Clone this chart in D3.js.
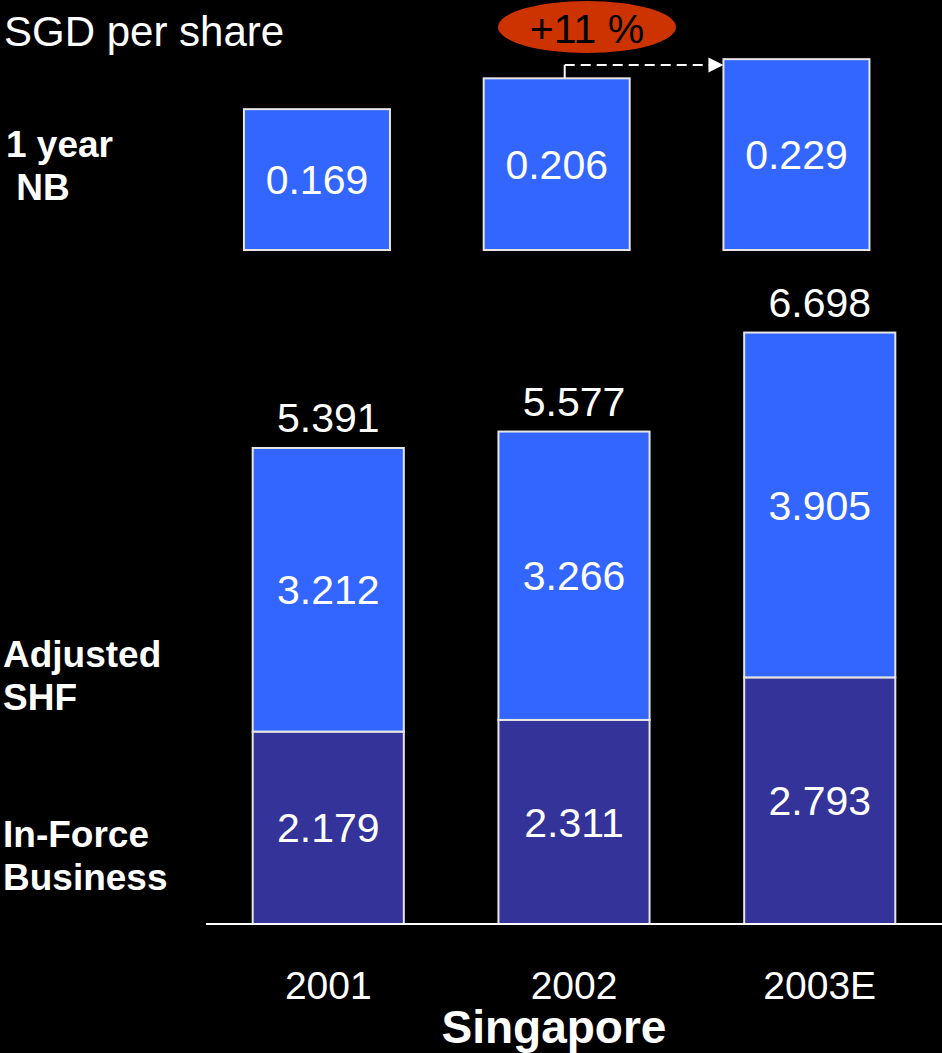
<!DOCTYPE html>
<html>
<head>
<meta charset="utf-8">
<script src="https://cdn.jsdelivr.net/npm/d3@7"></script>
<style>
  html, body { margin: 0; padding: 0; background: #000; }
  svg { display: block; }
  text { font-family: "Liberation Sans", Arial, Helvetica, sans-serif; fill: #fff; }
</style>
</head>
<body>
<svg id="chart" width="942" height="1053"></svg>
<script>
// Singapore embedded value per share (SGD)
const years = ["2001", "2002", "2003E"];
const newBusiness = [0.169, 0.206, 0.229];      // 1 year NB
const inForce = [2.179, 2.311, 2.793];          // In-Force Business
const adjustedShf = [3.212, 3.266, 3.905];      // Adjusted SHF
const totals = [5.391, 5.577, 6.698];
const seriesKeys = ["inForce", "adjustedShf"];
const sideLabels = [
  { lines: ["1 year", " NB"], y: 157, x: 6 },
  { lines: ["Adjusted", "SHF"], y: 667, x: 3 },
  { lines: ["In-Force", "Business"], y: 847, x: 3 }
];

const W = 942, H = 1053;
const BLUE = "#3366FF", NAVY = "#333399", RED = "#CC3300", EDGE = "#e6e6e6";

const svg = d3.select("#chart");
svg.append("rect").attr("width", W).attr("height", H).attr("fill", "#000");

// ---------- Stacked bars (lower panel) ----------
const x = d3.scaleBand().domain(years).range([206, 942]).paddingInner(0.385).paddingOuter(0.19);
const y = d3.scaleLinear().domain([0, 7]).range([924, 924 - 7 * 88.3]);

const rows = years.map((yr, i) => ({ year: yr, inForce: inForce[i], adjustedShf: adjustedShf[i] }));
const stacked = d3.stack().keys(seriesKeys)(rows);
const fills = { inForce: NAVY, adjustedShf: BLUE };

const layers = svg.append("g").selectAll("g").data(stacked).join("g")
  .attr("fill", d => fills[d.key]);

layers.selectAll("rect").data(d => d).join("rect")
  .attr("x", d => x(d.data.year))
  .attr("width", x.bandwidth())
  .attr("y", d => y(d[1]))
  .attr("height", d => y(d[0]) - y(d[1]))
  .attr("stroke", EDGE).attr("stroke-width", 2);

const valueSize = 41;
layers.selectAll("text").data(d => d).join("text")
  .attr("x", d => x(d.data.year) + x.bandwidth() / 2)
  .attr("y", d => (y(d[0]) + y(d[1])) / 2 + valueSize * 0.358)
  .attr("text-anchor", "middle")
  .attr("font-size", valueSize)
  .text(d => d3.format(".3f")(d[1] - d[0]));

// totals above the bars
svg.append("g").selectAll("text").data(totals).join("text")
  .attr("x", (d, i) => x(years[i]) + x.bandwidth() / 2)
  .attr("y", d => y(d) - 16)
  .attr("text-anchor", "middle")
  .attr("font-size", valueSize)
  .text(d => d3.format(".3f")(d));

// baseline and category axis
svg.append("line").attr("x1", 206).attr("x2", 942).attr("y1", y(0)).attr("y2", y(0))
  .attr("stroke", "#fff").attr("stroke-width", 2);

const xAxis = d3.axisBottom(x).tickSize(0).tickPadding(0);
const axisG = svg.append("g").attr("transform", `translate(0,${y(0)})`).call(xAxis);
axisG.select(".domain").remove();
axisG.selectAll("text")
  .attr("fill", "#fff").attr("font-size", 39)
  .attr("font-family", "Liberation Sans, Arial, sans-serif")
  .attr("dy", null).attr("y", 75);

svg.append("text").attr("x", 554).attr("y", 1043).attr("text-anchor", "middle")
  .attr("font-size", 46).attr("font-weight", "bold").text("Singapore");

// ---------- New business boxes (upper panel) ----------
const xNb = d3.scaleBand().domain(years).range([198.4, 915]).paddingInner(0.391).paddingOuter(0.19);
const yNb = d3.scaleLinear().domain([0, 0.3]).range([250, 0]);

const nbG = svg.append("g");
nbG.selectAll("rect").data(newBusiness).join("rect")
  .attr("x", (d, i) => xNb(years[i]))
  .attr("width", xNb.bandwidth())
  .attr("y", d => yNb(d))
  .attr("height", d => yNb(0) - yNb(d))
  .attr("fill", BLUE).attr("stroke", EDGE).attr("stroke-width", 2);

nbG.selectAll("text").data(newBusiness).join("text")
  .attr("x", (d, i) => xNb(years[i]) + xNb.bandwidth() / 2)
  .attr("y", d => (yNb(0) + yNb(d)) / 2 + valueSize * 0.358)
  .attr("text-anchor", "middle")
  .attr("font-size", valueSize)
  .text(d => d3.format(".3f")(d));

// growth arrow from 2002 to 2003E
const arrowY = 65;
const arrowX0 = xNb(years[1]) + xNb.bandwidth() / 2 + 8;
const arrowX1 = xNb(years[2]);
svg.append("line").attr("x1", arrowX0).attr("x2", arrowX0)
  .attr("y1", arrowY).attr("y2", yNb(newBusiness[1]))
  .attr("stroke", "#fff").attr("stroke-width", 2);
svg.append("line").attr("x1", arrowX0).attr("x2", arrowX1 - 14)
  .attr("y1", arrowY).attr("y2", arrowY)
  .attr("stroke", "#fff").attr("stroke-width", 2).attr("stroke-dasharray", "10,6");
svg.append("path")
  .attr("d", `M${arrowX1},${arrowY} L${arrowX1 - 15},${arrowY - 7.5} L${arrowX1 - 15},${arrowY + 7.5} Z`)
  .attr("fill", "#fff");

const growth = Math.round((newBusiness[2] / newBusiness[1] - 1) * 100);
svg.append("ellipse").attr("cx", 587).attr("cy", 27).attr("rx", 89).attr("ry", 26).attr("fill", RED);
svg.append("text").attr("x", 587).attr("y", 43).attr("text-anchor", "middle")
  .attr("font-size", 41).style("fill", "#000").text(`+${growth} %`);

// ---------- Titles and row labels ----------
svg.append("text").attr("x", 4).attr("y", 46).attr("font-size", 42).text("SGD per share");

const side = svg.append("g").selectAll("text").data(sideLabels).join("text")
  .attr("x", d => d.x).attr("y", d => d.y)
  .attr("font-size", 37).attr("font-weight", "bold")
  .attr("xml:space", "preserve")
  .style("white-space", "pre");
side.selectAll("tspan").data(d => d.lines.map(l => ({ l, x: d.x }))).join("tspan")
  .attr("x", d => d.x).attr("dy", (d, i) => i === 0 ? 0 : 43)
  .text(d => d.l);
</script>
</body>
</html>
